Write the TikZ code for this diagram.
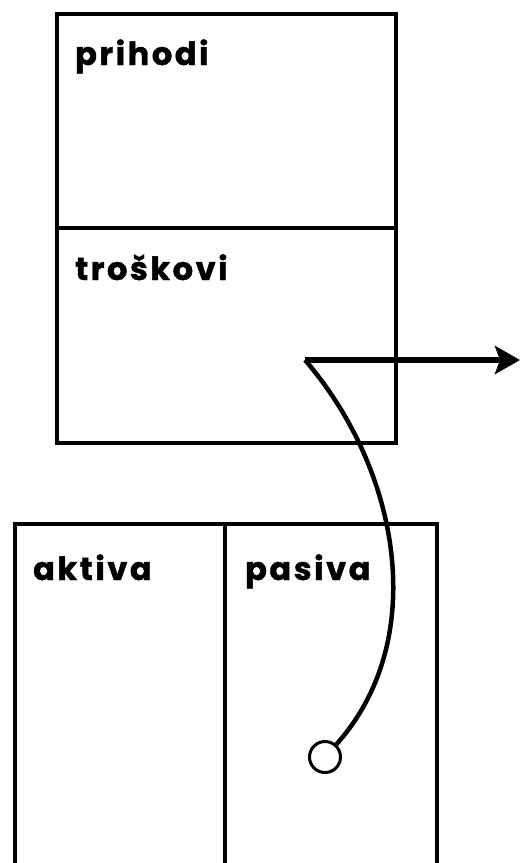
\documentclass[tikz,border=0pt]{standalone}
\usepackage{fontspec}
\setmainfont{Poppins}[LetterSpace=8, BoldFeatures={FakeBold=1.2}]
\usetikzlibrary{arrows.meta}

\begin{document}
\begin{tikzpicture}[
    x=1pt, y=-1pt,
    cell/.style={draw, line width=3.5pt, anchor=north west, inner sep=0pt},
    lbl/.style={anchor=base west, inner sep=0pt, font=\fontsize{32}{36}\selectfont\bfseries},
    conn/.style={line width=4.5pt}
]

% page frame
\useasboundingbox (0,0) rectangle (520,863);
\clip (0,0) rectangle (520,863);

% Income statement (top box)
\node[cell, minimum width=339pt, minimum height=214pt] (prihodi) at (55,12) {};
\node[cell, minimum width=339pt, minimum height=215pt] (troskovi) at (55,226) {};

% Balance sheet (bottom box, open at the bottom)
\node[cell, minimum width=210pt, minimum height=380pt] (aktiva) at (13,522) {};
\node[cell, minimum width=212pt, minimum height=380pt] (pasiva) at (223,522) {};

% Labels
\node[lbl] (lprihodi) at (75,65) {prihodi};
\node[lbl] (ltroskovi) at (75,280) {troškovi};
\node[lbl] (laktiva) at (33,580) {aktiva};
\node[lbl] (lpasiva) at (245,580) {pasiva};

% Transfer out of pasiva
\node[circle, draw, line width=3pt, fill=white, minimum size=31pt, inner sep=0pt] (dot) at (325,757) {};
\coordinate (bend) at (305,360);
\coordinate (tip) at (520,360);

\draw[conn] (dot) .. controls (430,640) and (400,470) .. (bend);
\draw[line width=5.5pt, -{Stealth[length=25pt, width=28pt, inset=5pt]}] (bend) -- (tip);

\end{tikzpicture}
\end{document}
